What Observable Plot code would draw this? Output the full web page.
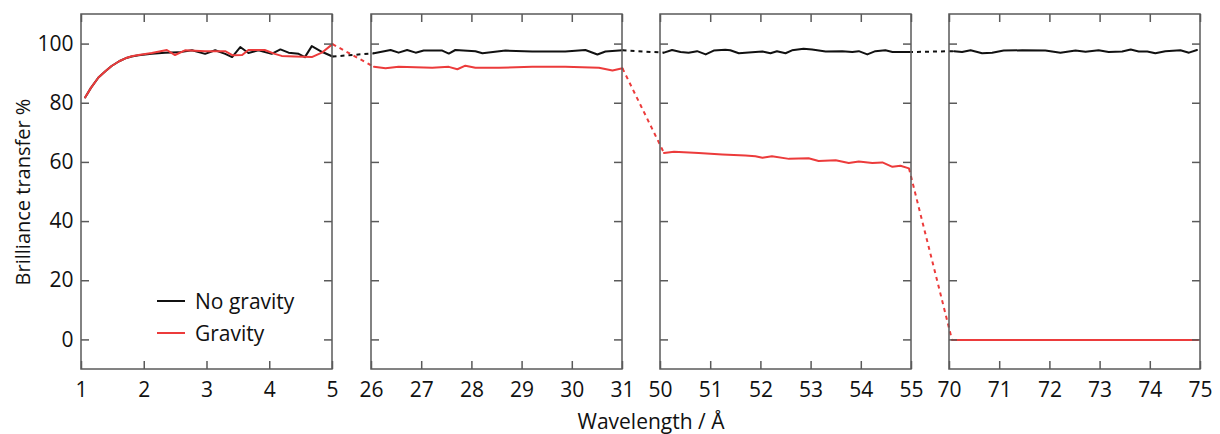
<!DOCTYPE html>
<html><head><meta charset="utf-8">
<script src="https://cdn.jsdelivr.net/npm/d3@7"></script>
<script src="https://cdn.jsdelivr.net/npm/@observablehq/plot@0.6"></script>
<style>
html,body{margin:0;padding:0;background:#fff;}
#wrap{position:relative;width:1220px;height:434px;font-family:"Open Sans",sans-serif;}
#legend{position:absolute;left:157px;top:285px;font-size:21px;color:#111;}
.row{display:flex;align-items:center;height:32px;}
.sw{width:28px;height:2px;margin-right:10px;}
</style></head><body><div id="wrap"><div id="legend"></div></div>
<script>
// ---- data ----
const seriesNames = ["No gravity", "Gravity"];
const seriesColors = ["#111111", "#ec3b3b"];
const panelDomains = [[1, 5], [26, 31], [50, 55], [70, 75]];
const xTicks = [1,2,3,4,5,26,27,28,29,30,31,50,51,52,53,54,55,70,71,72,73,74,75];
const yTicks = [0, 20, 40, 60, 80, 100];
const yDomain = [-10, 110];

// No gravity, panel by panel
const ng1x = [1.06,1.15,1.27,1.38,1.48,1.60,1.70,1.80,1.91,2.12,2.33,2.55,2.76,2.97,3.13,3.29,3.40,3.53,3.66,3.82,4.03,4.17,4.30,4.46,4.56,4.67,4.83,5.00];
const ng1y = [82.0,85.2,88.7,90.8,92.6,94.2,95.2,95.8,96.2,96.7,97.1,97.2,97.9,96.7,97.9,96.7,95.6,99.0,97.0,97.9,96.7,98.2,97.1,96.7,95.6,99.3,97.4,95.8];
const ng2x = [26.05,26.38,26.54,26.71,26.88,27.04,27.41,27.54,27.67,28.07,28.21,28.67,29.20,29.86,30.26,30.50,30.66,31.00];
const ng2y = [96.9,98.0,97.1,98.0,97.1,97.8,97.8,96.8,98.0,97.6,96.9,97.8,97.5,97.5,98.0,96.5,97.5,97.9];
const ng3x = [50.07,50.23,50.40,50.56,50.73,50.90,51.06,51.29,51.39,51.56,51.89,52.03,52.19,52.32,52.49,52.62,52.85,53.02,53.29,53.62,53.82,53.95,54.12,54.28,54.48,54.62,54.95];
const ng3y = [97.1,98.0,97.3,97.1,97.6,96.5,97.8,98.1,97.9,96.9,97.3,97.5,96.9,97.6,96.9,97.9,98.4,98.2,97.5,97.6,97.3,97.6,96.5,97.6,97.9,97.3,97.3];
const ng4x = [70.09,70.25,70.42,70.65,70.85,71.08,71.45,71.91,72.21,72.51,72.71,72.97,73.17,73.44,73.61,73.77,73.94,74.10,74.30,74.60,74.77,74.93];
const ng4y = [97.6,97.3,97.9,96.9,97.1,97.8,97.9,97.8,97.1,97.8,97.4,97.9,97.3,97.5,98.2,97.5,97.5,96.9,97.6,97.9,97.1,98.0];

// Gravity, panel by panel
const g1x = [1.06,1.15,1.27,1.38,1.48,1.60,1.70,1.80,1.91,2.12,2.36,2.49,2.65,2.97,3.29,3.41,3.56,3.66,3.92,4.08,4.19,4.40,4.67,4.83,4.96,5.00];
const g1y = [82.0,85.2,88.7,90.8,92.6,94.2,95.2,95.9,96.3,97.0,98.0,96.3,97.9,97.6,97.6,96.2,96.3,98.0,98.0,96.7,96.0,95.8,95.6,97.1,99.3,100.0];
const g2x = [26.05,26.28,26.54,27.21,27.54,27.71,27.87,28.07,28.54,29.20,29.86,30.53,30.80,31.00];
const g2y = [92.3,91.8,92.3,92.0,92.3,91.5,92.7,92.0,92.0,92.3,92.3,92.0,91.1,91.8];
const g3x = [50.07,50.27,50.76,51.23,51.69,51.89,52.03,52.22,52.56,52.95,53.15,53.49,53.75,53.95,54.22,54.42,54.62,54.78,54.95];
const g3y = [63.2,63.6,63.2,62.7,62.3,62.1,61.6,62.1,61.2,61.4,60.5,60.7,59.8,60.3,59.8,60.0,58.5,58.9,58.0];
const g4x = [70.05,71,72,73,74,74.95];
const g4y = [0,0,0,0,0,0];

// ---- layout ----
const W = 1220, H = 434;
const mTop = 14, mBottom = 65, mLeft = 81, mRight = 20;
const xRange = [81, 332, 371, 622, 660, 911, 949, 1200];
const panelW = xRange[1] - xRange[0];
const innerH = H - mTop - mBottom;
const tickLen = 8;

const raw = {
  "No gravity": [[ng1x, ng1y], [ng2x, ng2y], [ng3x, ng3y], [ng4x, ng4y]],
  "Gravity": [[g1x, g1y], [g2x, g2y], [g3x, g3y], [g4x, g4y]]
};
const points = [];
const connectors = [];
for (const s of seriesNames) {
  raw[s].forEach(([xs, ys], p) => {
    xs.forEach((x, i) => points.push({series: s, panel: p, x, y: ys[i]}));
  });
  for (let p = 0; p < raw[s].length - 1; p++) {
    const [ax, ay] = raw[s][p], [bx, by] = raw[s][p + 1];
    connectors.push({series: s, x1: ax[ax.length - 1], y1: ay[ay.length - 1], x2: bx[0], y2: by[0]});
  }
}
const yTickPanels = [];
panelDomains.forEach(d => yTicks.forEach(t => yTickPanels.push({y: t, x1: d[0], x2: d[1]})));

const frameColor = "#5a5a5a";
const chart = Plot.plot({
  width: W, height: H,
  marginTop: mTop, marginBottom: mBottom, marginLeft: mLeft, marginRight: mRight,
  style: {fontFamily: '"Open Sans", sans-serif', fontSize: "21px", color: "#111", background: "#fff"},
  x: {type: "linear", domain: panelDomains.flat(), range: xRange},
  y: {domain: yDomain},
  color: {domain: seriesNames, range: seriesColors},
  marks: [
    Plot.line(points, {x: "x", y: "y", z: d => d.series + d.panel, stroke: "series", strokeWidth: 2}),
    Plot.link(connectors, {x1: "x1", y1: "y1", x2: "x2", y2: "y2", stroke: "series", strokeWidth: 2, strokeDasharray: "4,4"}),
    Plot.rect(panelDomains, {x1: d => d[0], x2: d => d[1], fill: "none", stroke: frameColor, strokeWidth: 1.5}),
    Plot.tickX(xTicks, {x: d => d, stroke: frameColor, strokeWidth: 1.5, insetTop: innerH - tickLen}),
    Plot.tickX(xTicks, {x: d => d, stroke: frameColor, strokeWidth: 1.5, insetBottom: innerH - tickLen}),
    Plot.ruleY(yTickPanels, {y: "y", x1: "x1", x2: "x2", stroke: frameColor, strokeWidth: 1.5, insetRight: panelW - tickLen}),
    Plot.ruleY(yTickPanels, {y: "y", x1: "x1", x2: "x2", stroke: frameColor, strokeWidth: 1.5, insetLeft: panelW - tickLen}),
    Plot.axisY({ticks: yTicks, tickSize: 0, tickPadding: 8, label: null, tickFormat: d => String(d)}),
    Plot.axisX({ticks: xTicks, tickSize: 0, tickPadding: 13, label: null, tickFormat: d => String(d)}),
    Plot.text(["Brilliance transfer %"], {frameAnchor: "left", textAnchor: "middle", rotate: -90, dx: -58, fontSize: 20}),
    Plot.text(["Wavelength / Å"], {frameAnchor: "bottom", dy: 59, dx: 10, fontSize: 21})
  ]
});
const wrap = document.getElementById("wrap");
wrap.insertBefore(chart, wrap.firstChild);

const legend = document.getElementById("legend");
seriesNames.forEach((s, i) => {
  const row = document.createElement("div");
  row.className = "row";
  const sw = document.createElement("div");
  sw.className = "sw";
  sw.style.background = seriesColors[i];
  const label = document.createElement("span");
  label.textContent = s;
  row.appendChild(sw);
  row.appendChild(label);
  legend.appendChild(row);
});
</script>
</body></html>
